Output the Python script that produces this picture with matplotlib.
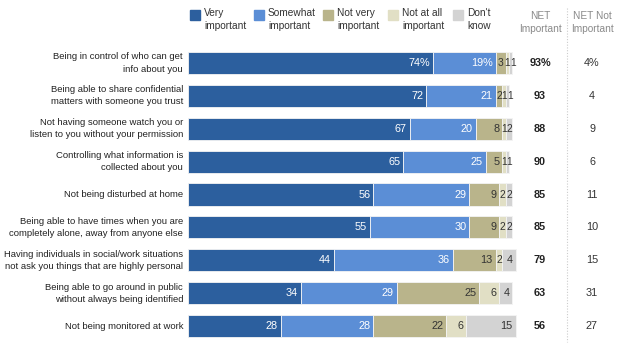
import numpy as np
import matplotlib.pyplot as plt
from matplotlib.patches import Rectangle

plt.rcParams['font.family'] = ['Liberation Sans', 'DejaVu Sans']

# 항목 및 응답 비율 (%)
items = [
    "Being in control of who can get\ninfo about you",
    "Being able to share confidential\nmatters with someone you trust",
    "Not having someone watch you or\nlisten to you without your permission",
    "Controlling what information is\ncollected about you",
    "Not being disturbed at home",
    "Being able to have times when you are\ncompletely alone, away from anyone else",
    "Having individuals in social/work situations\nnot ask you things that are highly personal",
    "Being able to go around in public\nwithout always being identified",
    "Not being monitored at work",
]
very = [74, 72, 67, 65, 56, 55, 44, 34, 28]
somewhat = [19, 21, 20, 25, 29, 30, 36, 29, 28]
not_very = [3, 2, 8, 5, 9, 9, 13, 25, 22]
not_at_all = [1, 1, 1, 1, 2, 2, 2, 6, 6]
dont_know = [1, 1, 2, 1, 2, 2, 4, 4, 15]
net_important = [93, 93, 88, 90, 85, 85, 79, 63, 56]
net_not = [4, 4, 9, 6, 11, 10, 15, 31, 27]

series = [very, somewhat, not_very, not_at_all, dont_know]
legend_labels = ["Very\nimportant", "Somewhat\nimportant", "Not very\nimportant",
                 "Not at all\nimportant", "Don't\nknow"]
colors = ["#2c5f9e", "#5b8ed6", "#b9b48b", "#e1dfc5", "#d3d3d3"]
text_colors = ["white", "white", "#333333", "#333333", "#333333"]

W, H = 620, 351
fig = plt.figure(figsize=(W / 100, H / 100), dpi=100)

px_per_pct = 3.31
x0 = 188
ax_left = x0 / W
ax = fig.add_axes([ax_left, 1 - 342.5 / H, 1 - ax_left, 296 / H])
ax.set_xlim(0, (W - x0) / px_per_pct)
ax.set_ylim(len(items) - 0.5, -0.5)
ax.axis("off")

digit_w = 1.25  # 숫자 한 글자 폭 (데이터 단위, 대략)
y = np.arange(len(items))
left = np.zeros(len(items))
last_right = np.full(len(items), -1.0)
for k, vals in enumerate(series):
    vals = np.array(vals, dtype=float)
    ax.barh(y, vals, left=left, height=0.67, color=colors[k],
            edgecolor="#f4f4f4", linewidth=0.6)
    for i, v in enumerate(vals):
        lab = f"{int(v)}%" if (i == 0 and k < 2) else f"{int(v)}"
        if v >= 4:
            xr = left[i] + v - 0.9
            ax.text(xr, i, lab, ha="right", va="center",
                    fontsize=7.8, color=text_colors[k])
            last_right[i] = xr
        else:
            xc = max(left[i] + v / 2, last_right[i] + 0.55 * digit_w + 0.3)
            ax.text(xc, i, lab, ha="center", va="center",
                    fontsize=7.4, color=text_colors[k])
            last_right[i] = xc + 0.5 * digit_w
    left += vals

# NET 열
c1 = (540 - x0) / px_per_pct
c2 = (592 - x0) / px_per_pct
for i in range(len(items)):
    s1 = f"{net_important[i]}%" if i == 0 else f"{net_important[i]}"
    s2 = f"{net_not[i]}%" if i == 0 else f"{net_not[i]}"
    ax.text(c1, i, s1, ha="center", va="center", fontsize=7.8, fontweight="bold", color="#222222")
    ax.text(c2, i, s2, ha="center", va="center", fontsize=7.8, color="#333333")

# 항목 라벨
for i, lab in enumerate(items):
    ax.text(-1.5, i, lab, ha="right", va="center", fontsize=6.8,
            color="#222222", linespacing=1.45)

# 범례
leg_x = [190, 254, 323, 388, 453]
for k in range(5):
    fig.patches.append(Rectangle((leg_x[k] / W, 1 - 20 / H), 10 / W, 10 / H,
                                 transform=fig.transFigure, color=colors[k]))
    fig.text((leg_x[k] + 14) / W, 1 - 8 / H, legend_labels[k], ha="left", va="top",
             fontsize=7.3, color="#333333", linespacing=1.35)

fig.text(540 / W, 1 - 11 / H, "NET\nImportant", ha="center", va="top",
         fontsize=7.3, color="#8a8a8a", linespacing=1.35)
fig.text(592 / W, 1 - 11 / H, "NET Not\nImportant", ha="center", va="top",
         fontsize=7.3, color="#8a8a8a", linespacing=1.35)

fig.add_artist(plt.Line2D([567 / W, 567 / W], [1 - 8 / H, 1 - 342 / H],
                          transform=fig.transFigure, color="#cccccc",
                          linestyle=(0, (1, 1.5)), linewidth=0.8))

fig.savefig("out.png", dpi=100)
